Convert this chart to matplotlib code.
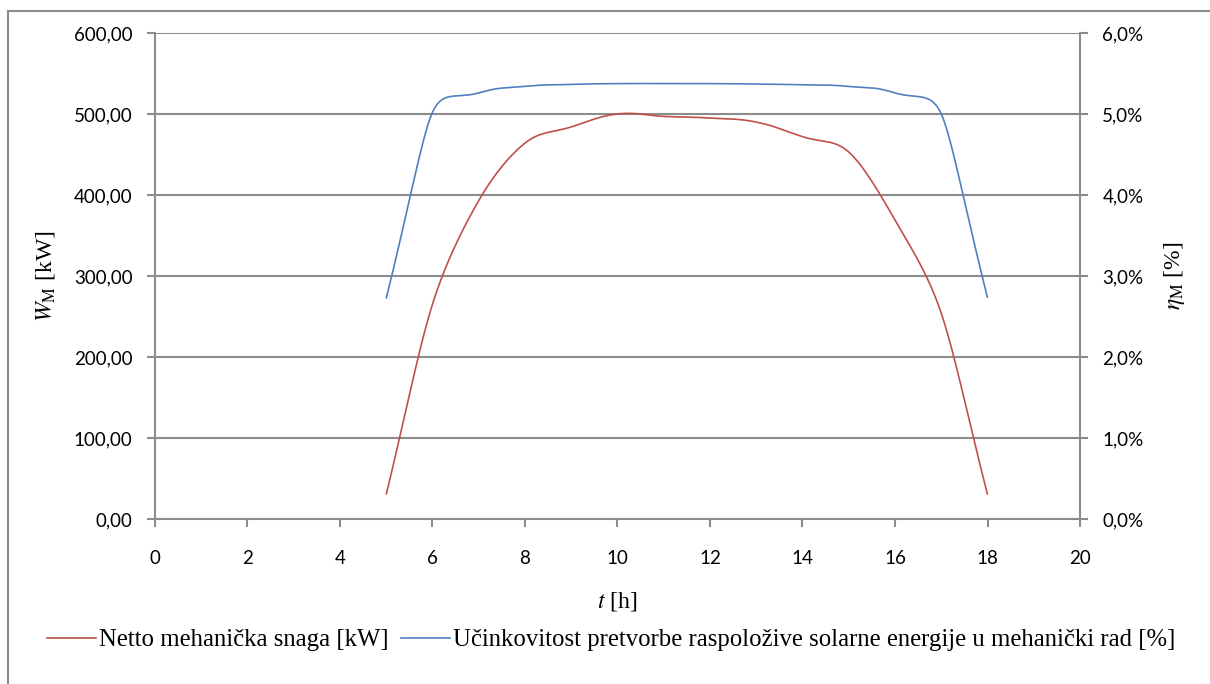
import numpy as np
import matplotlib
matplotlib.use('Agg')
import matplotlib.pyplot as plt
from matplotlib.ticker import FuncFormatter, MultipleLocator
from matplotlib.lines import Line2D

# data
hours = [5, 6, 7, 8, 9, 10, 11, 12, 13, 14, 15, 16, 17, 18]
power_kw = [30, 265, 393, 464, 484, 500, 497, 495, 490, 472, 453, 369, 254, 30]
eff_pct = [2.72, 5.02, 5.26, 5.34, 5.365, 5.375, 5.375, 5.375, 5.37, 5.36, 5.34, 5.26, 5.0, 2.73]

red = '#C0504D'
blue = '#4F81BD'
gray = '#8C8C8C'


def smooth(x, y, sx, sy, n=40, f=0.5):
    # excel style smoothed line: bezier segments in screen units
    # (sx, sy = pixels per data unit), handle length from the shorter
    # neighbouring segment so short steps don't overshoot
    X = np.asarray(x, float) * sx
    Y = np.asarray(y, float) * sy
    P = np.column_stack([X, Y])
    m = len(P)
    segs = np.hypot(*(P[1:] - P[:-1]).T)
    tang = []
    for i in range(m):
        d = P[min(i + 1, m - 1)] - P[max(i - 1, 0)]
        near = [segs[j] for j in (i - 1, i) if 0 <= j < m - 1]
        tang.append(d / np.hypot(*d) * min(near) * f)
    t = np.linspace(0, 1, n)[:, None]
    out = []
    for i in range(m - 1):
        p1, p2 = P[i], P[i + 1]
        c1 = p1 + tang[i]
        c2 = p2 - tang[i + 1]
        b = (1-t)**3*p1 + 3*(1-t)**2*t*c1 + 3*(1-t)*t**2*c2 + t**3*p2
        out.append(b)
    b = np.vstack(out)
    return b[:, 0] / sx, b[:, 1] / sy


plt.rcParams['mathtext.fontset'] = 'stix'
tick_font = 'Lato'
serif = 'Liberation Serif'

fig = plt.figure(figsize=(12.1, 6.84), dpi=100)
ax = fig.add_axes([0.128, 0.2412, 0.7646, 0.7106])
ax2 = ax.twinx()

px_x = 46.25
sx, sy = smooth(hours, power_kw, px_x, 0.81, f=0.4)
ax.plot(sx, sy, color=red, lw=1.2, solid_capstyle='butt')
sx, sy = smooth(hours, eff_pct, px_x, 81.0, f=0.5)
ax2.plot(sx, sy, color=blue, lw=1.2, solid_capstyle='butt')

ax.set_xlim(0, 20)
ax.set_ylim(0, 600)
ax2.set_ylim(0, 6)
ax.xaxis.set_major_locator(MultipleLocator(2))
ax.yaxis.set_major_locator(MultipleLocator(100))
ax2.yaxis.set_major_locator(MultipleLocator(1))
ax.yaxis.set_major_formatter(FuncFormatter(lambda v, p: f'{v:.2f}'.replace('.', ',')))
ax2.yaxis.set_major_formatter(FuncFormatter(lambda v, p: f'{v:.1f}%'.replace('.', ',')))

ax.grid(axis='y', color=gray, lw=1.5)
ax.set_axisbelow(True)
for a in (ax, ax2):
    for s in a.spines.values():
        s.set_visible(False)
    a.tick_params(colors=gray, width=1.5, length=6, labelcolor='black', labelsize=13.5)
    for lbl in a.get_xticklabels() + a.get_yticklabels():
        lbl.set_family(tick_font)
ax.spines['left'].set_visible(True)
ax.spines['bottom'].set_visible(True)
ax2.spines['right'].set_visible(True)
for s in (ax.spines['left'], ax.spines['bottom'], ax2.spines['right']):
    s.set_color(gray)
    s.set_linewidth(1.5)
ax.tick_params(axis='x', pad=16)
ax.tick_params(axis='y', pad=10)
ax2.tick_params(axis='y', pad=10)

ax.set_xlabel(r'$t$ [h]', fontsize=17, family=serif, labelpad=17)
ax.set_ylabel(r'$W_\mathrm{M}$ [kW]', fontsize=17, family=serif, labelpad=12)
ax2.set_ylabel(r'$\eta_\mathrm{M}$ [%]', fontsize=17, family=serif, labelpad=13, rotation=90)

handles = [Line2D([], [], color=red, lw=1.2), Line2D([], [], color=blue, lw=1.2)]
labels = ['Netto mehanička snaga [kW]',
          'Učinkovitost pretvorbe raspoložive solarne energije u mehanički rad [%]']
fig.legend(handles, labels, loc='center', bbox_to_anchor=(0.505, 0.064), ncol=2,
           frameon=False, prop={'family': serif, 'size': 17.8},
           handlelength=2.0, handletextpad=0.1, columnspacing=0.5)

# chart area border (cropped at right and bottom)
fig.add_artist(Line2D([8/1210, 1.0], [1 - 11/684, 1 - 11/684], color=gray, lw=1.5,
                      transform=fig.transFigure))
fig.add_artist(Line2D([8/1210, 8/1210], [1 - 11/684, 0.0], color=gray, lw=1.5,
                      transform=fig.transFigure))

fig.savefig('out.png', dpi=100)
